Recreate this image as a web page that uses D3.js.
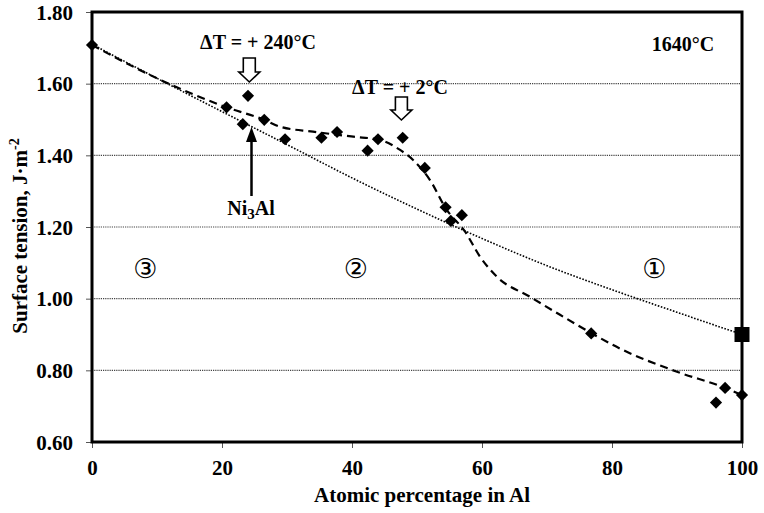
<!DOCTYPE html>
<html>
<head>
<meta charset="utf-8">
<script src="https://cdn.jsdelivr.net/npm/d3@7/dist/d3.min.js"></script>
<style>
  html, body { margin: 0; padding: 0; background: #fff; }
  svg text { font-family: "Liberation Serif", "Times New Roman", serif; font-weight: bold; fill: #000; }
</style>
</head>
<body>
<svg id="chart" width="764" height="513"></svg>
<script>
// ---------- data ----------
const pointAl = [0, 20.7, 23.2, 24.0, 26.5, 29.7, 35.3, 37.7, 42.4, 44.0, 47.8, 51.2, 54.4, 55.2, 56.9, 76.8, 96.0, 97.4, 100];
const pointST = [1.708, 1.534, 1.487, 1.566, 1.499, 1.445, 1.449, 1.465, 1.413, 1.445, 1.449, 1.365, 1.255, 1.217, 1.233, 0.903, 0.710, 0.751, 0.731];

const pureAl = [100];
const pureAlST = [0.90];

const modelAl = [0, 10, 20, 30, 40, 50, 60, 70, 80, 90, 100];
const modelST = [1.710, 1.615, 1.522, 1.430, 1.337, 1.250, 1.168, 1.092, 1.025, 0.962, 0.900];

const fitAl = [0, 10, 20.7, 26.5, 28.9, 34, 40.2, 44.3, 47.4, 49.4, 52, 54.5, 57.4, 59.7, 62.3, 67.4, 72, 76.9, 81.2, 90, 97.4, 100];
const fitST = [1.708, 1.615, 1.534, 1.499, 1.480, 1.466, 1.452, 1.443, 1.415, 1.387, 1.331, 1.250, 1.187, 1.117, 1.061, 1.005, 0.955, 0.903, 0.861, 0.796, 0.751, 0.731];

const xTicks = [0, 20, 40, 60, 80, 100];
const yTicks = [0.60, 0.80, 1.00, 1.20, 1.40, 1.60, 1.80];
const gridTicks = [0.80, 1.00, 1.20, 1.40, 1.60];

const regionLabels = ["③", "②", "①"];
const regionAl = [8.2, 40.6, 86.5];
const regionST = [1.085, 1.085, 1.085];

// ---------- layout ----------
const svg = d3.select("#chart");
const x = d3.scaleLinear().domain([0, 100]).range([92, 742]);
const y = d3.scaleLinear().domain([0.60, 1.80]).range([442, 12]);

// gridlines
svg.append("g").selectAll("line").data(gridTicks).join("line")
  .attr("x1", x(0)).attr("x2", x(100))
  .attr("y1", d => y(d)).attr("y2", d => y(d))
  .attr("stroke", "#444").attr("stroke-width", 1.2).attr("stroke-dasharray", "1.2,1");

// axes
const xAxis = d3.axisBottom(x).tickValues(xTicks).tickSize(6).tickSizeOuter(0).tickFormat(d3.format("d"));
const gx = svg.append("g").attr("transform", `translate(0,${y(0.60)})`).call(xAxis);
gx.select(".domain").remove();
gx.selectAll(".tick line").attr("stroke", "#555").attr("stroke-width", 1);
gx.selectAll(".tick text").attr("font-size", 21).attr("dy", null).attr("y", 33)
  .style("font-family", "'Liberation Serif', serif").style("font-weight", "bold");

const yAxis = d3.axisLeft(y).tickValues(yTicks).tickSize(6).tickSizeOuter(0).tickFormat(d3.format(".2f"));
const gy = svg.append("g").attr("transform", `translate(${x(0)},0)`).call(yAxis);
gy.select(".domain").remove();
gy.selectAll(".tick line").attr("stroke", "#555").attr("stroke-width", 1);
gy.selectAll(".tick text").attr("font-size", 21).attr("x", -19).attr("dy", "0.34em")
  .style("font-family", "'Liberation Serif', serif").style("font-weight", "bold");

// frame
svg.append("rect")
  .attr("x", x(0)).attr("y", y(1.80))
  .attr("width", x(100) - x(0)).attr("height", y(0.60) - y(1.80))
  .attr("fill", "none").attr("stroke", "#000").attr("stroke-width", 3);

// model (dotted) curve
const line = d3.line().curve(d3.curveMonotoneX);
svg.append("path")
  .attr("d", line(modelAl.map((a, i) => [x(a), y(modelST[i])])))
  .attr("fill", "none").attr("stroke", "#000").attr("stroke-width", 1.6)
  .attr("stroke-dasharray", "1.6,1.6");

// fit (dashed) curve
svg.append("path")
  .attr("d", line(fitAl.map((a, i) => [x(a), y(fitST[i])])))
  .attr("fill", "none").attr("stroke", "#000").attr("stroke-width", 2.2)
  .attr("stroke-dasharray", "8,5");

// diamonds
svg.append("g").selectAll("path").data(pointAl).join("path")
  .attr("d", d3.symbol().type(d3.symbolSquare).size(74))
  .attr("transform", (d, i) => `translate(${x(d)},${y(pointST[i])}) rotate(45)`)
  .attr("fill", "#000");

// pure Al square
svg.append("g").selectAll("path").data(pureAl).join("path")
  .attr("d", d3.symbol().type(d3.symbolSquare).size(225))
  .attr("transform", (d, i) => `translate(${x(d)},${y(pureAlST[i])})`)
  .attr("fill", "#000");

// hollow arrows
function hollowArrow(cx, top, tip) {
  const hw = 6, hh = 10.5, headLen = 10;
  const hb = tip - headLen;
  const p = [[cx - hw, top], [cx + hw, top], [cx + hw, hb], [cx + hh, hb], [cx, tip], [cx - hh, hb], [cx - hw, hb]];
  svg.append("path").attr("d", "M" + p.map(q => q.join(",")).join("L") + "Z")
    .attr("fill", "#fff").attr("stroke", "#000").attr("stroke-width", 1.6);
}
hollowArrow(x(24.2), 58, 82);
hollowArrow(x(47.6), 97, 120);

// annotations
svg.append("text").attr("x", 258).attr("y", 49).attr("text-anchor", "middle").attr("font-size", 20)
  .text("ΔT = + 240°C");
svg.append("text").attr("x", 400).attr("y", 94).attr("text-anchor", "middle").attr("font-size", 20)
  .text("ΔT = + 2°C");
svg.append("text").attr("x", 683).attr("y", 51).attr("text-anchor", "middle").attr("font-size", 20)
  .text("1640°C");

// Ni3Al label and arrow
const ni = svg.append("text").attr("x", 251).attr("y", 215).attr("text-anchor", "middle").attr("font-size", 20);
ni.append("tspan").text("Ni");
ni.append("tspan").attr("font-size", 15).attr("dy", 4).text("3");
ni.append("tspan").attr("dy", -4).text("Al");
svg.append("line").attr("x1", 251.5).attr("x2", 251.5).attr("y1", 196).attr("y2", 138)
  .attr("stroke", "#000").attr("stroke-width", 2.5);
svg.append("path").attr("d", `M246,142L257,142L251.5,127Z`).attr("fill", "#000");

// region labels
svg.append("g").selectAll("text").data(regionLabels).join("text")
  .attr("x", (d, i) => x(regionAl[i])).attr("y", (d, i) => y(regionST[i]))
  .attr("text-anchor", "middle").attr("dominant-baseline", "central")
  .attr("font-size", 27).style("font-family", "'DejaVu Sans', sans-serif").style("font-weight", "normal")
  .text(d => d);

// axis titles
svg.append("text").attr("x", 422).attr("y", 502).attr("text-anchor", "middle").attr("font-size", 21)
  .text("Atomic percentage in Al");
const yl = svg.append("text").attr("transform", "translate(27,236) rotate(-90)")
  .attr("text-anchor", "middle").attr("font-size", 21);
yl.append("tspan").text("Surface tension, J·m");
yl.append("tspan").attr("font-size", 14).attr("dy", -8).text("-2");
</script>
</body>
</html>
